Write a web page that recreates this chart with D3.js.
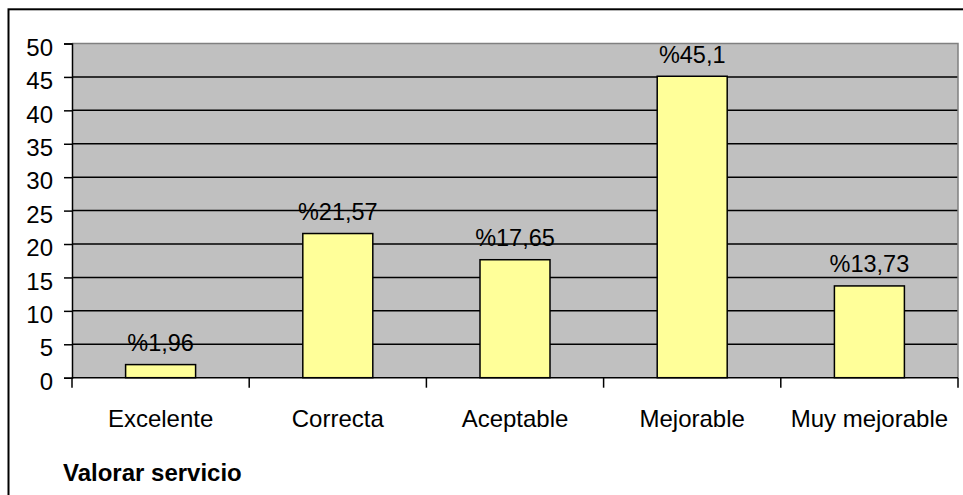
<!DOCTYPE html>
<meta charset="utf-8">
<script src="https://d3js.org/d3.v7.min.js"></script>
<style>
  body { margin: 0; background: #fff; }
  text { font-family: "Liberation Sans", Arial, sans-serif; fill: #000; }
</style>
<div id="chart"></div>
<script>

// data
var categories = ["Excelente", "Correcta", "Aceptable", "Mejorable", "Muy mejorable"];
var values = [1.96, 21.57, 17.65, 45.1, 13.73];
var valueLabels = ["%1,96", "%21,57", "%17,65", "%45,1", "%13,73"];
var yTicks = [0, 5, 10, 15, 20, 25, 30, 35, 40, 45, 50];
var title = "Valorar servicio";

var width = 963, height = 495;
var plot = {left: 72, right: 958, top: 43.5, bottom: 377.7};

var svg = d3.select("#chart")
  .append("svg")
    .attr("width", width)
    .attr("height", height);

// outer chart frame
svg.append("rect")
    .attr("x", 8.5)
    .attr("y", 9.3)
    .attr("width", 980)
    .attr("height", 520)
    .attr("fill", "#fff")
    .attr("stroke", "#000")
    .attr("stroke-width", 2);

var x = d3.scaleBand()
    .domain(categories)
    .range([plot.left, plot.right])
    .padding(0);

var y = d3.scaleLinear()
    .domain([0, 50])
    .range([plot.bottom, plot.top]);

// gray plot area
svg.append("rect")
    .attr("x", plot.left)
    .attr("y", plot.top)
    .attr("width", plot.right - plot.left)
    .attr("height", plot.bottom - plot.top)
    .attr("fill", "#c0c0c0");

// gridlines
svg.append("g")
  .selectAll("line")
  .data(yTicks.filter(function (d) { return d > 0 && d < 50; }))
  .enter().append("line")
    .attr("x1", plot.left)
    .attr("x2", plot.right)
    .attr("y1", function (d) { return y(d); })
    .attr("y2", function (d) { return y(d); })
    .attr("stroke", "#000")
    .attr("stroke-width", 1.5);

// top and right border of the plot area
svg.append("path")
    .attr("d", "M" + plot.left + "," + plot.top + "H" + plot.right + "V" + plot.bottom)
    .attr("fill", "none")
    .attr("stroke", "#808080")
    .attr("stroke-width", 1.5);

// bars
var barW = x.bandwidth() * 0.395;
svg.append("g")
  .selectAll("rect")
  .data(values)
  .enter().append("rect")
    .attr("x", function (d, i) { return x(categories[i]) + (x.bandwidth() - barW) / 2; })
    .attr("y", function (d) { return y(d); })
    .attr("width", barW)
    .attr("height", function (d) { return y(0) - y(d); })
    .attr("fill", "#ffff99")
    .attr("stroke", "#000")
    .attr("stroke-width", 1.5);

// value labels
svg.append("g")
  .selectAll("text")
  .data(values)
  .enter().append("text")
    .attr("x", function (d, i) { return x(categories[i]) + x.bandwidth() / 2; })
    .attr("y", function (d) { return y(d) - 13.5; })
    .attr("text-anchor", "middle")
    .style("font-size", "23.5px")
    .text(function (d, i) { return valueLabels[i]; });

// y axis
var yAxis = svg.append("g")
    .attr("transform", "translate(" + plot.left + ",0)")
    .call(d3.axisLeft(y).tickValues(yTicks).tickSize(8).tickPadding(11));
yAxis.select(".domain").attr("stroke", "#000").attr("stroke-width", 1.5);
yAxis.selectAll(".tick line").attr("stroke", "#000").attr("stroke-width", 1.5);
yAxis.selectAll(".tick text")
    .attr("dy", "0.32em")
    .attr("y", 4)
    .style("font-size", "24px")
    .style("font-family", "'Liberation Sans', Arial, sans-serif");

// x axis: ticks on the category boundaries
var xAxis = svg.append("g")
    .attr("transform", "translate(0," + plot.bottom + ")");
xAxis.append("line")
    .attr("x1", plot.left)
    .attr("x2", plot.right)
    .attr("stroke", "#000")
    .attr("stroke-width", 1.5);
xAxis.selectAll(".xt")
  .data(categories.concat([null]))
  .enter().append("line")
    .attr("class", "xt")
    .attr("x1", function (d, i) { return plot.left + i * x.step(); })
    .attr("x2", function (d, i) { return plot.left + i * x.step(); })
    .attr("y1", 0)
    .attr("y2", 10)
    .attr("stroke", "#000")
    .attr("stroke-width", 1.5);
xAxis.selectAll("text")
  .data(categories)
  .enter().append("text")
    .attr("x", function (d) { return x(d) + x.bandwidth() / 2; })
    .attr("y", 49)
    .attr("text-anchor", "middle")
    .style("font-size", "24px")
    .text(function (d) { return d; });

// chart title at the bottom left
svg.append("text")
    .attr("x", 63)
    .attr("y", 481)
    .style("font-size", "24px")
    .style("font-weight", "bold")
    .text(title);

</script>
